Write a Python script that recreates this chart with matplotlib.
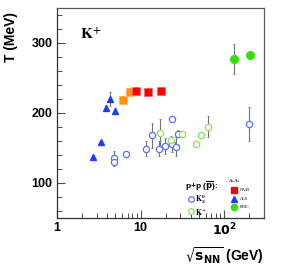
import matplotlib
matplotlib.use("Agg")
import matplotlib.pyplot as plt
from matplotlib.ticker import FixedLocator, NullFormatter, FixedFormatter

plt.rcParams['font.family'] = ['Liberation Sans', 'DejaVu Sans']
plt.rcParams['font.weight'] = 'bold'

# p+p K0S (open blue): sqrt(s), T, err
k0s_x = [4.86, 4.86, 6.76, 11.5, 13.8, 16.7, 19.8, 23.8, 24.0, 26.3, 27.9, 200]
k0s_t = [135, 130, 141, 149, 168, 149, 153, 191, 155, 152, 170, 184]
k0s_e = [11, 0, 0, 11, 18, 11, 11, 0, 11, 13, 5, 24]
# p+p(pbar) K+ (open green)
kp_x = [17.1, 23.0, 31.4, 45.7, 53.5, 63.7]
kp_t = [172, 161, 170, 155, 168, 180]
kp_e = [19, 6, 0, 0, 3, 15]
# A+A
ags_x = [2.70, 3.34, 3.83, 4.31, 4.91]
ags_t = [137, 158, 207, 220, 203]
ags_e = [0, 0, 4, 10, 4]
sps_lo_x = [6.12, 7.48]
sps_lo_t = [219, 230]
sps_lo_e = [5, 5]
na49_x = [8.76, 12.4, 17.5]
na49_t = [231, 230, 231]
na49_e = [6, 6, 6]
rhic_x = [131, 203]
rhic_t = [277, 283]
rhic_e = [22, 6]

blue = '#1a3cff'
green = '#33e000'

fig = plt.figure(figsize=(2.86, 2.73), dpi=100)
ax = fig.add_axes([0.199, 0.2015, 0.724, 0.7695])
ax.set_xscale('log')
ax.set_xlim(1, 300)
ax.set_ylim(50, 350)

ebkw = dict(fmt='none', ecolor='0.45', elinewidth=0.8, capsize=1, capthick=0.6, zorder=2)
for xs, ts, es in [(k0s_x, k0s_t, k0s_e), (kp_x, kp_t, kp_e), (ags_x, ags_t, ags_e),
                   (sps_lo_x, sps_lo_t, sps_lo_e), (na49_x, na49_t, na49_e), (rhic_x, rhic_t, rhic_e)]:
    ax.errorbar(xs, ts, yerr=es, **ebkw)

ax.plot(k0s_x, k0s_t, 'o', ms=4.5, mfc='white', mec='#5a70ff', mew=0.9, zorder=3)
ax.plot(kp_x, kp_t, 'o', ms=4.5, mfc='white', mec='#8ce05a', mew=0.9, zorder=3)
ax.plot(ags_x, ags_t, '^', ms=5, color=blue, mec=blue, zorder=3)
ax.plot(sps_lo_x, sps_lo_t, 's', ms=5.5, color='#ff9010', mec='#ffb050', mew=0.5, zorder=3)
ax.plot(na49_x, na49_t, 's', ms=5.5, color='#ff0000', mec='#ff6060', mew=0.5, zorder=3)
ax.plot(rhic_x, rhic_t, 'o', ms=5.5, color=green, mec=green, zorder=3)

# axes styling
for s in ax.spines.values():
    s.set_color('0.35')
    s.set_linewidth(0.9)
ax.spines['left'].set_color('0.2')
ax.spines['bottom'].set_color('0.2')
ax.yaxis.set_major_locator(FixedLocator([100, 200, 300]))
ax.yaxis.set_minor_locator(FixedLocator([v for v in range(60, 350, 20) if v % 100]))
ax.xaxis.set_major_locator(FixedLocator([1, 10, 100]))
ax.xaxis.set_major_formatter(FixedFormatter(['1', '10', r'$\mathbf{10^2}$']))
ax.xaxis.set_minor_locator(FixedLocator([m * d for d in (1, 10, 100) for m in range(2, 10) if m * d < 300]))
ax.xaxis.set_minor_formatter(NullFormatter())
ax.tick_params(which='both', direction='in', top=False, right=False, color='0.3')
ax.tick_params(which='major', length=6, width=0.8, labelsize=9, pad=3)
ax.tick_params(which='minor', length=3.5, width=0.7)
for lab in ax.get_xticklabels() + ax.get_yticklabels():
    lab.set_fontweight('bold')

ax.set_ylabel('T (MeV)', fontsize=10, fontweight='bold', labelpad=4)
ax.yaxis.set_label_coords(-0.19, 0.86)
ax.set_xlabel(r'$\sqrt{\mathbf{s}_{\mathbf{NN}}}$ (GeV)', fontsize=10, fontweight='bold')
ax.xaxis.set_label_coords(1.0, -0.13)
ax.xaxis.label.set_horizontalalignment('right')

ax.text(0.111, 0.871, r'$\mathrm{K}^{+}$', transform=ax.transAxes, fontsize=11,
        math_fontfamily='stix', va='center', ha='left')

# legend p+p
ax.text(0.62, 0.152, r'p+p ($\mathbf{\overline{p}}$):', transform=ax.transAxes, fontsize=6,
        fontweight='bold', va='center', ha='left')
ax.plot([0.649], [0.09], 'o', ms=4, mfc='white', mec='#5a70ff', mew=0.9, transform=ax.transAxes, clip_on=False)
ax.text(0.667, 0.09, r'$\mathrm{K}^{0}_{S}$', transform=ax.transAxes, fontsize=5.5,
        math_fontfamily='stix', va='center', ha='left')
ax.plot([0.649], [0.032], 'o', ms=4, mfc='white', mec='#8ce05a', mew=0.9, transform=ax.transAxes, clip_on=False)
ax.text(0.667, 0.026, r'$\mathrm{K}^{+}$', transform=ax.transAxes, fontsize=5.5,
        math_fontfamily='stix', va='center', ha='left')

# legend A+A
ax.text(0.83, 0.175, 'A+A:', transform=ax.transAxes, fontsize=3.5, fontweight='bold',
        family='Liberation Serif', va='center', ha='left')
leg_items = [('s', '#ff0000', 'NA49', 0.132), ('^', blue, 'AGS', 0.089), ('o', green, 'RHIC', 0.052)]
for mk, c, name, fy in leg_items:
    ax.plot([0.854], [fy], mk, ms=4.5, color=c, transform=ax.transAxes, clip_on=False)
    ax.text(0.884, fy, name, transform=ax.transAxes, fontsize=3, fontweight='normal',
            family='Liberation Serif', va='center', ha='left')

fig.savefig('out.png', dpi=100)
